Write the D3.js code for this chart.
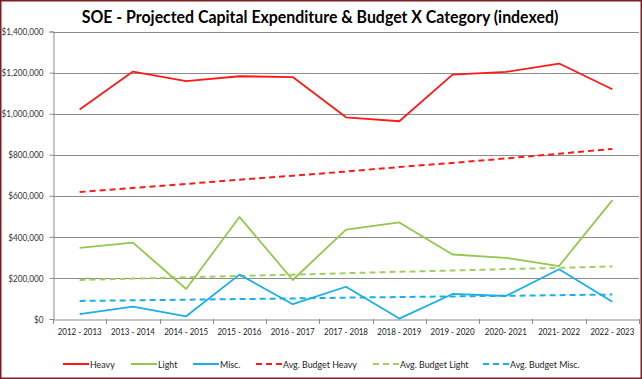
<!DOCTYPE html>
<html><head><meta charset="utf-8">
<script src="https://cdn.jsdelivr.net/npm/d3@7"></script>
<style>
html,body{margin:0;padding:0;background:#fff;}
svg{display:block;}
text{font-family:Lato, "Open Sans", sans-serif;}
</style></head>
<body>
<svg id="c" width="642" height="379"></svg>
<script>
const categories = ["2012 - 2013","2013 - 2014","2014 - 2015","2015 - 2016","2016 - 2017","2017 - 2018","2018 - 2019","2019 - 2020","2020- 2021","2021- 2022","2022 - 2023"];
const heavy = [1020000,1205000,1158000,1182000,1178000,982000,963000,1190000,1203000,1244000,1119000];
const light = [346000,372000,146000,497000,190000,435000,470000,314000,298000,258000,579000];
const misc = [24000,60000,13000,216000,72000,157000,2000,122000,112000,242000,84000];
const avgHeavy = [618000,638000,658000,678000,698000,718000,740000,760000,782000,805000,828000];
const avgLight = [190000,197000,203000,210000,216000,223000,230000,236000,243000,249000,256000];
const avgMisc = [88000,91000,94000,97000,100000,104000,107000,110000,113000,116000,119000];
const yTicks = [0,200000,400000,600000,800000,1000000,1200000,1400000];
const seriesNames = ["Heavy","Light","Misc.","Avg. Budget Heavy","Avg. Budget Light","Avg. Budget Misc."];

const red="#FF1A1A", green="#92C84E", blue="#1AAFE6", green2="#A3CF62";
const series = [
  {name:seriesNames[0], vals:heavy, color:red, dash:null},
  {name:seriesNames[1], vals:light, color:green, dash:null},
  {name:seriesNames[2], vals:misc, color:blue, dash:null},
  {name:seriesNames[3], vals:avgHeavy, color:red, dash:"6,4"},
  {name:seriesNames[4], vals:avgLight, color:green2, dash:"6,4"},
  {name:seriesNames[5], vals:avgMisc, color:blue, dash:"6,4"}
];

const svg = d3.select("#c");
const L=53, R=639, T=31.5, B=319;
const x = d3.scaleBand().domain(categories).range([L,R]);
const y = d3.scaleLinear().domain([0,1400000]).range([B,T]);

// horizontally condense texts (via scale transform) so a sample string reaches a target width
function condense(sel, sample, target, fs, weight){
  const t = svg.append("text").style("font-size",fs+"px").style("font-weight",weight||"normal").text(sample);
  const w = t.node().getComputedTextLength(); t.remove();
  const f = target/w;
  sel.each(function(){
    const n=d3.select(this);
    n.style("font-size",fs+"px").style("font-weight",weight||"normal");
    const x0 = +(n.attr("x")||0);
    n.attr("x", x0/f).attr("transform", `scale(${f},1)`);
  });
}

// gridlines
svg.append("g").selectAll("line").data(yTicks.slice(1)).join("line")
  .attr("x1",L).attr("x2",R).attr("y1",d=>Math.round(y(d))+0.5).attr("y2",d=>Math.round(y(d))+0.5)
  .attr("stroke","#8c8c8c").attr("stroke-width",1);

// y axis
const fmt = d => "$" + d3.format(",")(d);
const ya = svg.append("g").attr("transform",`translate(${L+0.5},0)`)
  .call(d3.axisLeft(y).tickValues(yTicks).tickFormat(fmt).tickSize(4).tickPadding(6));
ya.selectAll("path,line").attr("stroke","#8c8c8c");
ya.selectAll("text").attr("fill","#333").style("font-family","Lato, sans-serif");
condense(ya.selectAll("text"), "$1,400,000", 42, 9.8);

// x axis
const xa = svg.append("g").attr("transform",`translate(0,${Math.round(B)+0.5})`)
  .call(d3.axisBottom(x).tickSize(0).tickPadding(9));
xa.select("path").attr("stroke","#8c8c8c");
xa.selectAll("text").attr("fill","#222").style("font-family","Lato, sans-serif");
condense(xa.selectAll("text"), "2012 - 2013", 44, 9.8);
// band boundary ticks
svg.append("g").selectAll("line").data(d3.range(categories.length+1)).join("line")
  .attr("x1",i=>Math.round(L+i*x.step())+0.5).attr("x2",i=>Math.round(L+i*x.step())+0.5)
  .attr("y1",Math.round(B)).attr("y2",Math.round(B)+5)
  .attr("stroke","#8c8c8c");

// lines
const line = d3.line().x((d,i)=>x(categories[i])+x.bandwidth()/2).y(d=>y(d));
const drawOrder = [3,4,5,0,1,2];
drawOrder.forEach(k=>{
  const s=series[k];
  svg.append("path").attr("d",line(s.vals)).attr("fill","none")
    .attr("stroke",s.color).attr("stroke-width",s.dash?2:1.8)
    .attr("stroke-dasharray",s.dash).attr("stroke-linejoin","round");
});

// title
const tg = svg.append("g").attr("transform","translate(320,23)");
const title = tg.append("text").attr("x",0).attr("y",0).attr("text-anchor","middle")
  .attr("fill","#000")
  .text("SOE - Projected Capital Expenditure & Budget X Category (indexed)");
condense(title, "SOE - Projected Capital Expenditure & Budget X Category (indexed)", 477, 16.5, "bold");

// legend
const legX = [63,131,193,256,373,483];
const lg = svg.append("g");
series.forEach((s,i)=>{
  const g = lg.append("g").attr("transform",`translate(${legX[i]},364)`);
  g.append("line").attr("x1",0).attr("x2",26).attr("y1",0).attr("y2",0)
    .attr("stroke",s.color).attr("stroke-width",2).attr("stroke-dasharray",s.dash?"6,4":null);
  g.append("text").attr("x",27).attr("y",3.5).attr("fill","#222").text(s.name);
});
condense(lg.selectAll("text"), "Avg. Budget Heavy", 74, 9.8);

// border
svg.append("rect").attr("x",0.75).attr("y",0.75).attr("width",640.5).attr("height",377.5)
  .attr("fill","none").attr("stroke","#7B1F24").attr("stroke-width",1.5);
</script>
</body></html>
